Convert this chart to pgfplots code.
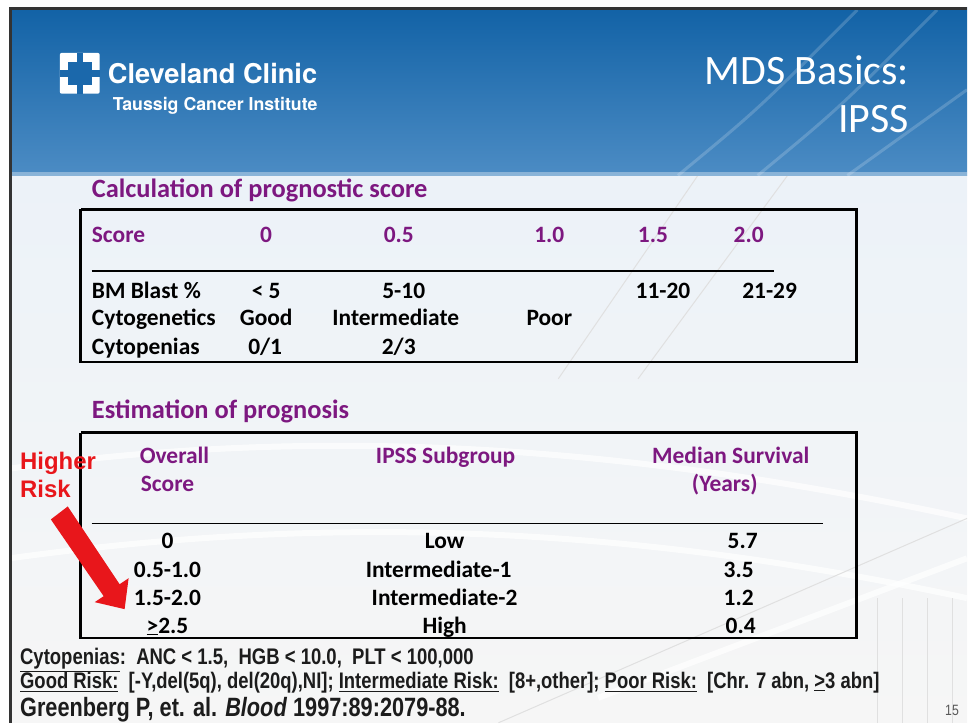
\documentclass[border=0pt]{standalone}
\usepackage{pgfplots}
\pgfplotsset{compat=1.18}
\usepackage{fontspec}
\setmainfont{Carlito}
\newfontfamily\arialf{Liberation Sans}
\newfontfamily\narrowf[FakeStretch=0.82]{Liberation Sans}
\newfontfamily\helv{TeX Gyre Heros}
\definecolor{purp}{RGB}{125,24,128}
\definecolor{redr}{RGB}{232,22,27}
\definecolor{hdrtop}{RGB}{18,98,166}
\definecolor{hdrbot}{RGB}{76,140,196}
\definecolor{bodytop}{RGB}{236,242,248}
\definecolor{bodybot}{RGB}{246,246,246}
\definecolor{foot}{RGB}{28,28,28}
\begin{document}
\begin{tikzpicture}[
  tc/.style={anchor=base, inner sep=0pt, font=\fontsize{23.5bp}{28bp}\selectfont\bfseries},
  tw/.style={anchor=base west, inner sep=0pt, font=\fontsize{23.5bp}{28bp}\selectfont\bfseries},
  hd/.style={anchor=base west, inner sep=0pt, text=purp, font=\fontsize{26.5bp}{30bp}\selectfont\bfseries},
]
\begin{axis}[
  scale only axis, width=970bp, height=725bp,
  xmin=0, xmax=970, ymin=0, ymax=725, y dir=reverse,
  hide axis, clip=false,
]
% backgrounds
\fill[white] (axis cs:0,0) rectangle (axis cs:970,725);
\shade[top color=bodytop, bottom color=bodybot] (axis cs:10,176) rectangle (axis cs:970,725);
% faint building structure in body
\draw[white, line width=6bp, opacity=0.7] (axis cs:10,470) .. controls (axis cs:300,430) and (axis cs:600,440) .. (axis cs:970,520);
\draw[white, line width=6bp, opacity=0.7] (axis cs:10,560) .. controls (axis cs:300,520) and (axis cs:600,520) .. (axis cs:970,600);
\draw[white, line width=6bp, opacity=0.7] (axis cs:600,700) -- (axis cs:970,560);
\draw[black!12, line width=1bp] (axis cs:880,600) -- (axis cs:880,725);
\draw[black!12, line width=1bp] (axis cs:905,600) -- (axis cs:905,725);
\draw[black!12, line width=1bp] (axis cs:930,600) -- (axis cs:930,725);
\draw[black!12, line width=1bp] (axis cs:955,600) -- (axis cs:955,725);
\draw[black!12, line width=1bp] (axis cs:500,725) -- (axis cs:970,520);
\draw[black!12, line width=1bp] (axis cs:560,380) -- (axis cs:700,176);
\draw[black!12, line width=1bp] (axis cs:640,380) -- (axis cs:790,176);
% header
\shade[top color=hdrtop, bottom color=hdrbot] (axis cs:10,8) rectangle (axis cs:970,176);
\draw[white, opacity=0.18, line width=3bp] (axis cs:680,176) .. controls (axis cs:760,110) .. (axis cs:860,10);
\draw[white, opacity=0.18, line width=3bp] (axis cs:760,176) .. controls (axis cs:840,110) .. (axis cs:940,10);
\draw[white, opacity=0.18, line width=3bp] (axis cs:850,176) -- (axis cs:970,90);
\fill[white, opacity=0.35] (axis cs:10,173) rectangle (axis cs:970,177);
% slide border
\draw[line width=3bp, black!80] (axis cs:11,725) -- (axis cs:11,9) -- (axis cs:970,9);

% logo
\fill[white, rounded corners=2bp] (axis cs:60,53) rectangle (axis cs:100,94);
\fill[hdrtop!85!hdrbot] (axis cs:68,62) rectangle (axis cs:92,85);
\fill[hdrtop!85!hdrbot] (axis cs:60,70) rectangle (axis cs:70,77);
\fill[hdrtop!85!hdrbot] (axis cs:90,70) rectangle (axis cs:100,77);
\fill[hdrtop!85!hdrbot] (axis cs:77,53) rectangle (axis cs:83,63);
\fill[hdrtop!85!hdrbot] (axis cs:77,84) rectangle (axis cs:83,94);
\node[anchor=base west, inner sep=0pt, text=white, font=\helv\fontsize{27.3bp}{30bp}\selectfont\bfseries] at (axis cs:108,84) {Cleveland Clinic};
\node[anchor=base west, inner sep=0pt, text=white, font=\helv\fontsize{17.8bp}{20bp}\selectfont\bfseries] at (axis cs:113,111) {Taussig Cancer Institute};
\node[anchor=base east, inner sep=0pt, text=white, font=\fontsize{42bp}{46bp}\selectfont] at (axis cs:912,85) {MDS Basics:};
\node[anchor=base east, inner sep=0pt, text=white, font=\fontsize{42bp}{46bp}\selectfont] at (axis cs:912,133) {IPSS};

% ---- table 1 ----
\node[hd] at (axis cs:92,198) {Calculation of prognostic score};
\addplot[black, line width=2.6bp, line join=miter] coordinates {(81,210) (859,210) (859,363) (81,363) (81,210)};
\addplot[black, line width=1.6bp] coordinates {(92,272) (776,272)};
\node[tw, text=purp] at (axis cs:92,243) {Score};
\node[tc, text=purp] at (axis cs:267,243) {0};
\node[tc, text=purp] at (axis cs:400,243) {0.5};
\node[tc, text=purp] at (axis cs:551,243) {1.0};
\node[tc, text=purp] at (axis cs:655,243) {1.5};
\node[tc, text=purp] at (axis cs:751,243) {2.0};
\node[tw] at (axis cs:92,299) {BM Blast \%};
\node[tc] at (axis cs:267,299) {< 5};
\node[tc] at (axis cs:405,299) {5-10};
\node[tc] at (axis cs:665,299) {11-20};
\node[tc] at (axis cs:772,299) {21-29};
\node[tw] at (axis cs:92,327) {Cytogenetics};
\node[tc] at (axis cs:267,327) {Good};
\node[tc] at (axis cs:397,327) {Intermediate};
\node[tc] at (axis cs:551,327) {Poor};
\node[tw] at (axis cs:92,356) {Cytopenias};
\node[tc] at (axis cs:266,356) {0/1};
\node[tc] at (axis cs:400,356) {2/3};

% ---- table 2 ----
\node[hd] at (axis cs:92,420) {Estimation of prognosis};
\addplot[black, line width=2.6bp, line join=miter] coordinates {(81,434) (859,434) (859,640) (81,640) (81,434)};
\addplot[black, line width=1.6bp] coordinates {(92,525) (826,525)};
\node[tc, text=purp] at (axis cs:175,465) {Overall};
\node[tc, text=purp] at (axis cs:168,493) {Score};
\node[tc, text=purp] at (axis cs:447,465) {IPSS Subgroup};
\node[tc, text=purp] at (axis cs:733,465) {Median Survival};
\node[tc, text=purp] at (axis cs:727,493) {(Years)};
\node[tc] at (axis cs:168,550) {0};
\node[tc] at (axis cs:168,579) {0.5-1.0};
\node[tc] at (axis cs:168,607) {1.5-2.0};
\node[tc] at (axis cs:168,635) {\underline{>}2.5};
\node[tc] at (axis cs:446,550) {Low};
\node[tc] at (axis cs:440,579) {Intermediate-1};
\node[tc] at (axis cs:446,607) {Intermediate-2};
\node[tc] at (axis cs:446,635) {High};
\node[tc] at (axis cs:745,550) {5.7};
\node[tc] at (axis cs:741,579) {3.5};
\node[tc] at (axis cs:741,607) {1.2};
\node[tc] at (axis cs:743,635) {0.4};

% ---- higher risk arrow ----
\node[anchor=base west, inner sep=0pt, text=redr, font=\arialf\fontsize{24bp}{26bp}\selectfont\bfseries] at (axis cs:20,471) {Higher};
\node[anchor=base west, inner sep=0pt, text=redr, font=\arialf\fontsize{24bp}{26bp}\selectfont\bfseries] at (axis cs:20,499) {Risk};
\fill[redr] (axis cs:51,521) -- (axis cs:68,508) -- (axis cs:120,586) -- (axis cs:129,580) -- (axis cs:125,611) -- (axis cs:95,604) -- (axis cs:104,598) -- cycle;

% ---- footer ----
\node[anchor=base west, inner sep=0pt, text=foot] at (axis cs:20,667) {\resizebox{455bp}{!}{\narrowf\fontsize{19bp}{22bp}\selectfont\bfseries \underline{Cytopenias}:\ \ ANC < 1.5,\ \ HGB < 10.0,\ \ PLT < 100,000}};
\node[anchor=base west, inner sep=0pt, text=foot] at (axis cs:20,691) {\resizebox{862bp}{!}{\narrowf\fontsize{19bp}{22bp}\selectfont\bfseries \underline{Good Risk:}\ \ [-Y,del(5q), del(20q),NI]; \underline{Intermediate Risk:}\ \ [8+,other]; \underline{Poor Risk:}\ \ [Chr. 7 abn, \underline{>}3 abn]}};
\node[anchor=base west, inner sep=0pt, text=foot] at (axis cs:20,719) {\resizebox{447bp}{!}{\narrowf\fontsize{24bp}{27bp}\selectfont\bfseries Greenberg P, et. al. \textit{Blood} 1997:89:2079-88.}};
\node[anchor=base east, inner sep=0pt, text=black!65, font=\narrowf\fontsize{15bp}{17bp}\selectfont] at (axis cs:962,718) {15};
\end{axis}
\end{tikzpicture}
\end{document}
